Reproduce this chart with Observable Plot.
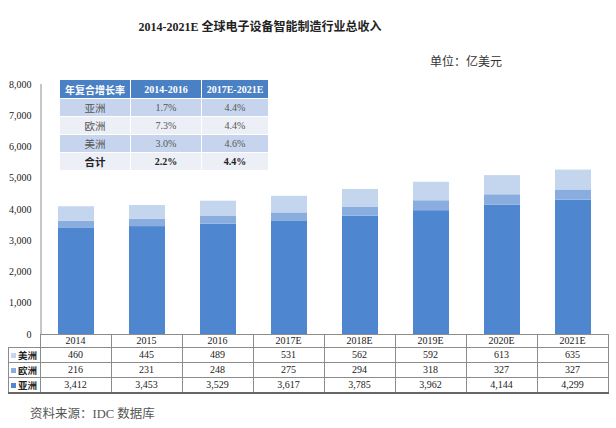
<!DOCTYPE html>
<html>
<head>
<meta charset="utf-8">
<script src="https://cdn.jsdelivr.net/npm/d3@7"></script>
<script src="https://cdn.jsdelivr.net/npm/@observablehq/plot@0.6"></script>
<style>
  html, body { margin: 0; padding: 0; background: #fff; }
  #wrap { position: relative; width: 616px; height: 428px; overflow: hidden; font-family: "Liberation Serif", "Noto Sans CJK SC", serif; }
  #title { position: absolute; left: 0; width: 520px; top: 17px; text-align: center; font-size: 12px; font-weight: bold; color: #222; }
  #unit { position: absolute; left: 430px; top: 52px; font-size: 12px; color: #333; }
  #chart { position: absolute; left: 0; top: 74px; }
  #cagr { position: absolute; left: 59px; top: 79px; border-collapse: separate; border-spacing: 1px; table-layout: fixed; }
  #cagr td { text-align: center; padding: 0; font-size: 10px; color: #555; height: 17px; font-family: "Liberation Serif", serif; }
  #cagr tr.head td { background: #4a80c4; color: #fff; font-weight: bold; height: 18px; }
  #cagr tr.blue td { background: #c6d5ed; }
  #cagr tr.gray td { background: #eceff5; }
  #cagr tr.total td { font-weight: bold; color: #222; }
  #dtab { position: absolute; left: 8px; top: 334px; border-collapse: collapse; table-layout: fixed; }
  #dtab td { border: 1px solid #8c8c8c; text-align: center; padding: 0; font-size: 10px; color: #222; height: 14px; line-height: 14px; }
  #dtab tr.hdr td { height: 12px; line-height: 12px; }
  #dtab tr.hdr td.corner { border-left: none; border-top: none; }
  #dtab tr.last td { border-bottom: 2px solid #666; }
  #dtab td.lab { text-align: left; font-family: "Noto Sans CJK SC", sans-serif; font-weight: bold; font-size: 9.5px; white-space: nowrap; }
  .sw { display: inline-block; width: 5px; height: 5px; margin: 0 2px 1px 2px; vertical-align: middle; }
  #source { position: absolute; left: 30px; top: 403px; font-size: 12.5px; color: #555; }
</style>
</head>
<body>
<div id="wrap">
  <div id="title">2014-2021E 全球电子设备智能制造行业总收入</div>
  <div id="unit">单位：亿美元</div>
  <div id="chart"></div>
  <table id="dtab"></table>
  <table id="cagr"></table>
  <div id="source">资料来源：IDC 数据库</div>
</div>
<script>
// ---- data ----
const categories = ["2014", "2015", "2016", "2017E", "2018E", "2019E", "2020E", "2021E"];
const seriesNames = ["亚洲", "欧洲", "美洲"];
const asia = [3412, 3453, 3529, 3617, 3785, 3962, 4144, 4299];
const europe = [216, 231, 248, 275, 294, 318, 327, 327];
const america = [460, 445, 489, 531, 562, 592, 613, 635];
const seriesColors = ["#4f86d0", "#8aade0", "#c4d5ee"];
const yTicks = [0, 1000, 2000, 3000, 4000, 5000, 6000, 7000, 8000];

const cagrHeader = ["年复合增长率", "2014-2016", "2017E-2021E"];
const cagrRegions = ["亚洲", "欧洲", "美洲", "合计"];
const cagr2014_2016 = ["1.7%", "7.3%", "3.0%", "2.2%"];
const cagr2017_2021 = ["4.4%", "4.4%", "4.6%", "4.4%"];

// ---- long data for stacking (亚洲 bottom, 欧洲, 美洲 top) ----
const seriesValues = [asia, europe, america];
const rows = [];
categories.forEach((c, i) => {
  seriesNames.forEach((s, j) => rows.push({category: c, series: s, value: seriesValues[j][i]}));
});

const chart = Plot.plot({
  width: 616,
  height: 272,
  marginTop: 10,
  marginBottom: 12,
  marginLeft: 40,
  marginRight: 8,
  style: {fontFamily: "Liberation Serif, serif", fontSize: "10px", color: "#222", background: "transparent"},
  x: {domain: categories, paddingInner: 0.5, paddingOuter: 0.25, axis: null},
  y: {domain: [0, 8000], axis: null},
  color: {domain: seriesNames, range: seriesColors},
  marks: [
    Plot.barY(rows, {x: "category", y: "value", fill: "series"}),
    Plot.axisY({ticks: yTicks, tickSize: 0, tickPadding: 9, tickFormat: d3.format(","), label: null, fontSize: 10}),
    Plot.ruleX([categories[0]], {y1: 0, y2: 8000, dx: -35.5, stroke: "#8c8c8c"}),
    Plot.ruleY([0], {stroke: "#8c8c8c"})
  ]
});
document.getElementById("chart").appendChild(chart);

// ---- CAGR inset table ----
const cagr = document.getElementById("cagr");
const colW = [70, 70, 66];
{
  const tr = document.createElement("tr");
  tr.className = "head";
  cagrHeader.forEach((h, i) => {
    const td = document.createElement("td");
    td.textContent = h;
    td.style.width = colW[i] + "px";
    if (i === 0) td.style.fontFamily = "Noto Sans CJK SC, sans-serif";
    tr.appendChild(td);
  });
  cagr.appendChild(tr);
}
cagrRegions.forEach((r, i) => {
  const tr = document.createElement("tr");
  tr.className = (i % 2 === 0 ? "blue" : "gray") + (i === cagrRegions.length - 1 ? " total" : "");
  [r, cagr2014_2016[i], cagr2017_2021[i]].forEach((v, k) => {
    const td = document.createElement("td");
    td.textContent = v;
    if (k === 0) { td.style.fontFamily = "Noto Sans CJK SC, sans-serif"; td.style.fontSize = "10.5px"; }
    tr.appendChild(td);
  });
  cagr.appendChild(tr);
});

// ---- data table under the chart ----
const dtab = document.getElementById("dtab");
const fmt = d3.format(",");
{
  const tr = document.createElement("tr");
  tr.className = "hdr";
  const c0 = document.createElement("td");
  c0.className = "corner";
  c0.style.width = "31px";
  tr.appendChild(c0);
  categories.forEach(c => {
    const td = document.createElement("td");
    td.textContent = c;
    td.style.width = "70px";
    tr.appendChild(td);
  });
  dtab.appendChild(tr);
}
[2, 1, 0].forEach((j, idx) => {
  const tr = document.createElement("tr");
  if (idx === 2) tr.className = "last";
  const lab = document.createElement("td");
  lab.className = "lab";
  lab.innerHTML = `<span class="sw" style="background:${seriesColors[j]}"></span>${seriesNames[j]}`;
  tr.appendChild(lab);
  seriesValues[j].forEach(v => {
    const td = document.createElement("td");
    td.textContent = fmt(v);
    tr.appendChild(td);
  });
  dtab.appendChild(tr);
});
</script>
</body>
</html>
